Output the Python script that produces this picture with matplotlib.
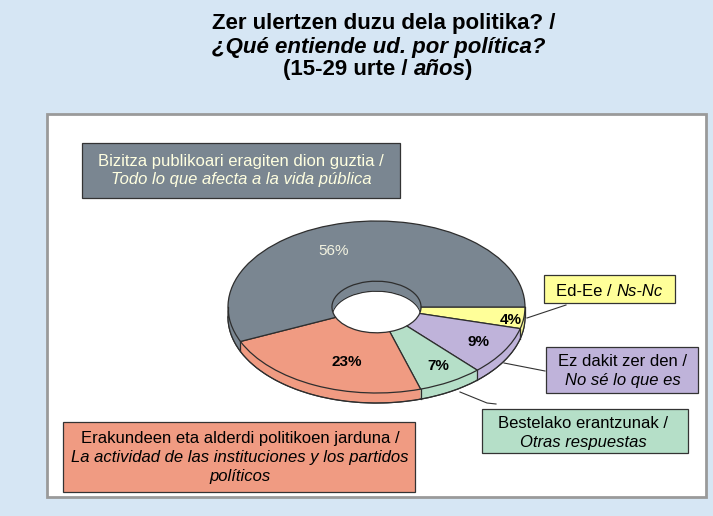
import numpy as np
import matplotlib
matplotlib.use("Agg")
import matplotlib.pyplot as plt
from matplotlib.patches import Rectangle

plt.rcParams['font.family'] = ['Liberation Sans', 'DejaVu Sans']

# ---------------- data ----------------
values = [4, 9, 7, 23, 56]
colors = ['#FFFF99', '#BFB3DA', '#B5DFC8', '#F09B82', '#7A8691']
pct_labels = [f"{v}%" for v in values]
box_lines = [
    [[("Ed-Ee / ", 'normal'), ("Ns-Nc", 'italic')]],
    [[("Ez dakit zer den /", 'normal')], [("No sé lo que es", 'italic')]],
    [[("Bestelako erantzunak /", 'normal')], [("Otras respuestas", 'italic')]],
    [[("Erakundeen eta alderdi politikoen jarduna /", 'normal')],
     [("La actividad de las instituciones y los partidos", 'italic')],
     [("políticos", 'italic')]],
    [[("Bizitza publikoari eragiten dion guztia /", 'normal')],
     [("Todo lo que afecta a la vida pública", 'italic')]],
]
title_lines = [
    [("Zer ulertzen duzu dela politika? /", 'normal')],
    [("¿Qué entiende ud. por política?", 'italic')],
    [("(15-29 urte / ", 'normal'), ("años", 'italic'), (")", 'normal')],
]

W, H = 713, 516
fig = plt.figure(figsize=(W / 100, H / 100), dpi=100, facecolor='#D6E6F4')
renderer = fig.canvas.get_renderer()

# background axes (pixel coords, y down)
ax_bg = fig.add_axes([0, 0, 1, 1])
ax_bg.set_xlim(0, W); ax_bg.set_ylim(H, 0); ax_bg.axis('off')
ax_bg.add_patch(Rectangle((47, 114), 659, 383, facecolor='white',
                          edgecolor='#9A9A9A', linewidth=2.0))

# ---------------- 3D donut ----------------
cx, cy = 376.5, H - 307.0   # pixel centre (from bottom)
ax_px, ay_px = 148.5, 86.0  # semi-axes in px
xl = (-1.05, 1.05)
yl = (-1.25, 1.05)
ax_pie = fig.add_axes([(cx + xl[0] * ax_px) / W, (cy + yl[0] * ay_px) / H,
                       (xl[1] - xl[0]) * ax_px / W, (yl[1] - yl[0]) * ay_px / H])
ax_pie.patch.set_alpha(0)
depth = 10.0 / ay_px
edge = '#2E2E2E'
hole_w = 0.7
nlay = 14
for k in range(nlay + 1):
    off = -depth + depth * k / nlay
    if k == 0 or k == nlay:
        wp = dict(width=hole_w, edgecolor=edge, linewidth=0.9)
    else:
        wp = dict(width=hole_w, edgecolor='none', linewidth=0)
    wedges, _ = ax_pie.pie(values, colors=colors, radius=1.0, center=(0, off),
                           startangle=0, counterclock=False, wedgeprops=wp,
                           frame=False)
    for w in wedges:
        w.set_zorder(1 + k)
# outlines of the side wall
th = np.linspace(np.pi, 2 * np.pi, 300)
ax_pie.plot(np.cos(th), np.sin(th) - depth, color=edge, lw=0.9, zorder=50)
ax_pie.plot([-1, -1], [0, -depth], color=edge, lw=0.9, zorder=50)
ax_pie.plot([1, 1], [0, -depth], color=edge, lw=0.9, zorder=50)
cum = np.cumsum([0] + values) / np.sum(values) * 360.0
for a in cum:
    t = np.deg2rad(-a)
    if np.sin(t) < -0.05:
        ax_pie.plot([np.cos(t)] * 2, [np.sin(t), np.sin(t) - depth],
                    color=edge, lw=0.9, zorder=50)
ax_pie.set_aspect('auto')
ax_pie.set_xlim(*xl); ax_pie.set_ylim(*yl)
ax_pie.axis('off')

# ---------------- foreground: text, boxes ----------------
ax_fg = fig.add_axes([0, 0, 1, 1])
ax_fg.set_xlim(0, W); ax_fg.set_ylim(H, 0); ax_fg.axis('off')
ax_fg.patch.set_alpha(0)


def text_width(s, **kw):
    t = ax_fg.text(0, 0, s, **kw)
    w = t.get_window_extent(renderer).width
    t.remove()
    return w


def draw_line(pieces, xc, yb, size, weight='normal', color='black'):
    widths = []
    for i, (s, st) in enumerate(pieces):
        core = s.rstrip(' ')
        w = text_width(core, fontsize=size, fontstyle=st, fontweight=weight)
        nsp = len(s) - len(core)
        if nsp:
            sp = text_width('a a', fontsize=size, fontstyle=st, fontweight=weight) - \
                 text_width('aa', fontsize=size, fontstyle=st, fontweight=weight)
            w += nsp * sp
        if st == 'italic' and i < len(pieces) - 1:
            w -= 2.0
        widths.append(w)
    x = xc - sum(widths) / 2
    for (s, st), w in zip(pieces, widths):
        ax_fg.text(x, yb, s.rstrip(' '), fontsize=size, fontstyle=st,
                   fontweight=weight, color=color, ha='left', va='baseline',
                   zorder=30)
        x += w


# title
title_x = [384, 379, 377]
title_y = [28.5, 52.5, 75]
for pieces, x, y in zip(title_lines, title_x, title_y):
    draw_line(pieces, x, y, 16, weight='bold')

# label boxes: (x0, y0, x1, y1), text centre x, baselines, text colour
boxes = [
    ((544, 275, 675, 303), 609, [296.5], 'black'),
    ((546, 347, 698, 393), 623, [366, 384.5], 'black'),
    ((482, 409, 688, 453), 583, [428.5, 447], 'black'),
    ((63, 422, 415, 492), 240, [442.5, 462, 481], 'black'),
    ((82, 143, 400, 198), 241, [166, 184], '#FFFFE0'),
]
for (b, xc, ybs, tc), col, lines in zip(boxes, colors, box_lines):
    x0, y0, x1, y1 = b
    ax_fg.add_patch(Rectangle((x0, y0), x1 - x0, y1 - y0, facecolor=col,
                              edgecolor='#333333', linewidth=0.9, zorder=20))
    for pieces, yb in zip(lines, ybs):
        draw_line(pieces, xc, yb, 12, color=tc)

# leader lines
leaders = [
    [(527, 318), (566, 305)],
    [(504, 363), (545, 371)],
    [(460, 392), (487, 403), (496, 404)],
]
for pts in leaders:
    xs, ys = zip(*pts)
    ax_fg.plot(xs, ys, color='#333333', lw=0.8, zorder=25)

# percentage labels
pct_pos = [(510.5, 320.5), (478, 341.5), (438, 366), (347, 362.5), (334, 251)]
for lab, (x, y), c in zip(pct_labels, pct_pos, colors):
    if c == '#7A8691':
        ax_fg.text(x, y, lab, fontsize=11, color='#F2F2E0', ha='center',
                   va='center', zorder=30)
    else:
        ax_fg.text(x, y, lab, fontsize=11, fontweight='bold', color='black',
                   ha='center', va='center', zorder=30)

fig.savefig('out.png', dpi=100, facecolor=fig.get_facecolor())
